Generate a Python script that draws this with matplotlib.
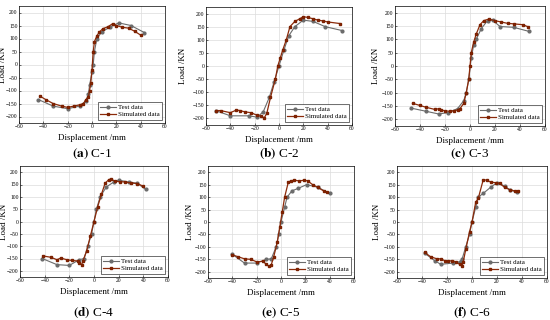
import numpy as np
import matplotlib
matplotlib.use('Agg')
import matplotlib.pyplot as plt

plt.rcParams['font.family'] = ['Liberation Serif', 'DejaVu Serif']
plt.rcParams['mathtext.fontset'] = 'stix'

# ---- data: (displacement mm, load kN) ----
test_x = {
    'C-1': [-44, -32, -20, -10, -5, -3, -2, 0, 1, 2, 4, 8, 15, 22, 32, 43],
    'C-2': [-52, -40, -25, -18, -13, -8, -4, 0, 4, 8, 13, 20, 28, 38, 52],
    'C-3': [-47, -35, -25, -18, -10, -5, -3, -1, 1, 3, 5, 9, 14, 18, 24, 35, 47],
    'C-4': [-42, -30, -20, -12, -8, -5, -2, 0, 2, 5, 10, 16, 20, 28, 35, 42],
    'C-5': [-40, -30, -20, -12, -8, -4, -2, 0, 3, 5, 9, 14, 21, 30, 40],
    'C-6': [-38, -30, -25, -15, -10, -8, -5, -2, 0, 3, 5, 9, 15, 20, 26, 30, 36],
}
test_y = {
    'C-1': [-135, -160, -170, -160, -140, -115, -80, -30, 0, 50, 100, 125, 145, 160, 150, 123],
    'C-2': [-170, -190, -190, -195, -175, -120, -60, 0, 60, 115, 150, 175, 170, 150, 135],
    'C-3': [-158, -170, -180, -175, -160, -130, -100, -50, 30, 80, 100, 140, 170, 172, 148, 145, 130],
    'C-4': [-150, -175, -178, -155, -150, -100, -50, 0, 50, 100, 140, 160, 168, 160, 155, 130],
    'C-5': [-130, -165, -165, -150, -148, -100, -50, 0, 60, 100, 125, 135, 150, 140, 115],
    'C-6': [-125, -155, -170, -165, -160, -150, -100, -50, 0, 60, 100, 115, 140, 158, 145, 130, 120],
}
sim_x = {
    'C-1': [-43, -38, -32, -25, -20, -15, -10, -7, -5, -3, -2, -1, 0, 1, 2, 4, 6, 9, 13, 17, 20, 25, 30, 35, 40],
    'C-2': [-52, -48, -40, -35, -32, -28, -23, -18, -15, -12, -10, -7, -3, -1, 1, 3, 6, 9, 13, 17, 20, 24, 28,
            32, 36, 40, 50],
    'C-3': [-46, -40, -35, -28, -25, -23, -20, -16, -13, -10, -8, -5, -3, -1, 0, 1, 3, 5, 8, 11, 15, 20, 25,
            30, 35, 42, 46],
    'C-4': [-41, -35, -30, -27, -22, -18, -13, -12, -10, -9, -6, -3, 0, 3, 6, 9, 12, 14, 17, 21, 25, 30, 35, 40],
    'C-5': [-40, -35, -30, -25, -20, -15, -12, -10, -8, -6, -3, -1, 1, 3, 6, 8, 11, 15, 19, 22, 26, 30, 35, 38],
    'C-6': [-38, -33, -28, -25, -22, -19, -16, -13, -10, -8, -7, -5, -2, 0, 3, 5, 9, 12, 15, 19, 22, 26, 30,
            34, 37],
}
sim_y = {
    'C-1': [-121, -135, -150, -160, -165, -160, -155, -150, -135, -125, -100, -70, -20, 50, 88, 110, 125, 138,
            145, 157, 150, 143, 140, 128, 113],
    'C-2': [-170, -170, -178, -168, -170, -175, -178, -188, -192, -197, -180, -120, -50, 0, 30, 60, 100, 150,
            170, 180, 188, 185, 180, 175, 172, 168, 162],
    'C-3': [-140, -148, -155, -163, -160, -165, -168, -170, -168, -165, -160, -140, -100, -50, 0, 50, 90, 120,
            155, 170, 176, 170, 165, 160, 158, 155, 148],
    'C-4': [-140, -145, -155, -148, -155, -158, -160, -168, -175, -160, -120, -60, 0, 60, 110, 155, 170, 172,
            163, 162, 160, 156, 154, 143],
    'C-5': [-132, -140, -148, -150, -160, -158, -170, -178, -172, -140, -80, -20, 40, 100, 160, 165, 168, 165,
            168, 165, 150, 140, 125, 120],
    'C-6': [-122, -140, -148, -148, -155, -158, -155, -160, -170, -175, -160, -110, -40, 0, 80, 95, 170, 168,
            160, 158, 155, 140, 130, 125, 125],
}
specimens = ['C-1', 'C-2', 'C-3', 'C-4', 'C-5', 'C-6']
letters = ['a', 'b', 'c', 'd', 'e', 'f']

W, H = 550, 320
# axes boxes in pixels: left, top, right, bottom
boxes = [(19, 6, 165, 123), (206, 7, 352, 125), (395, 6, 545, 126),
         (20, 166, 168, 277), (208, 166, 354, 278), (397, 166, 547, 278)]
ylabel_x = [7, 187, 380, 8, 194, 381]
caption_y = [154, 154, 154, 313, 313, 313]

fig = plt.figure(figsize=(5.5, 3.2), dpi=100)

for i, name in enumerate(specimens):
    l, t, r, b = boxes[i]
    ax = fig.add_axes([l / W, 1 - b / H, (r - l) / W, (b - t) / H])
    ax.grid(True, color='#dcdcdc', linewidth=0.5)
    ax.set_axisbelow(True)
    ax.plot(test_x[name], test_y[name], color='#6b6b6b', lw=0.8, marker='o', ms=2,
            label='Test data')
    ax.plot(sim_x[name], sim_y[name], color='#8b2a0a', lw=0.9, marker='s', ms=2,
            mfc='#a02a0a', mec='#7a2000', label='Simulated data')
    ax.set_xlim(-60, 60)
    ax.set_ylim(-225, 225)
    ax.set_xticks(np.arange(-60, 61, 20))
    ax.set_yticks(np.arange(-200, 201, 50))
    ax.tick_params(labelsize=4, length=1.5, width=0.4, pad=1, direction='in')
    for s in ax.spines.values():
        s.set_linewidth(0.5)
    ax.set_xlabel('Displacement /mm', fontsize=6.5, labelpad=3)
    ax.set_ylabel('Load /KN', fontsize=6.5)
    ax.yaxis.set_label_coords((ylabel_x[i] - l) / (r - l), 0.5)
    leg = ax.legend(loc='lower right', fontsize=5, frameon=True, fancybox=False,
                    edgecolor='black', handlelength=2.2, borderpad=0.3,
                    labelspacing=0.2, handletextpad=0.3)
    leg.get_frame().set_linewidth(0.5)
    cx = (l + r) / 2 / W
    cy = 1 - caption_y[i] / H
    fig.text(cx, cy, '$\\mathbf{(' + letters[i] + ')}$ ' + name, ha='center', va='center',
             fontsize=9.5)

fig.savefig('out.png', dpi=100)
